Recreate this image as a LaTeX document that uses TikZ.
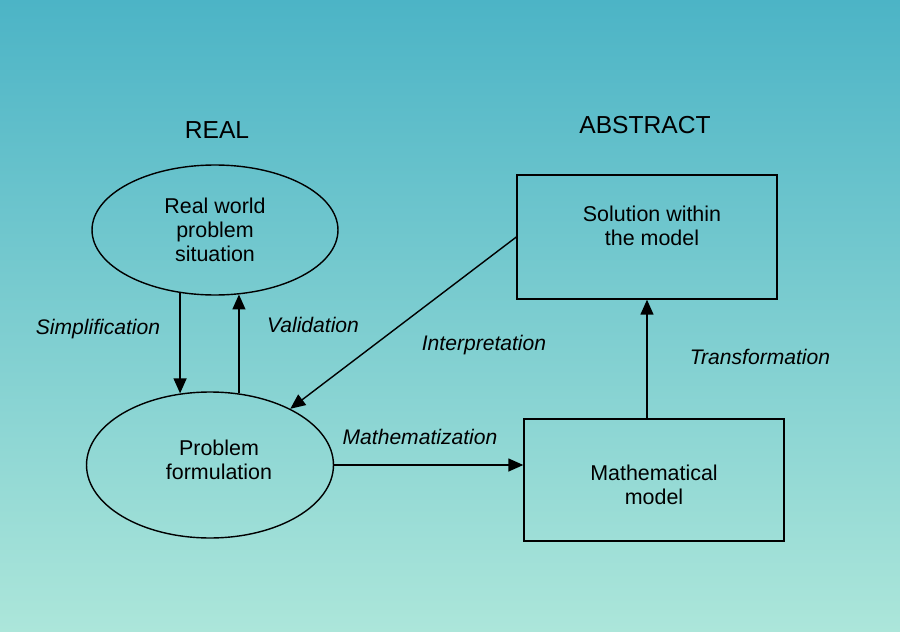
\documentclass[tikz,border=0pt]{standalone}
\usepackage{fontspec}
\setmainfont{Liberation Sans}
\usetikzlibrary{shapes.geometric,arrows.meta}
\definecolor{bgtop}{RGB}{76,180,198}
\definecolor{bgmid}{RGB}{126,212,216}
\definecolor{bgbot}{RGB}{172,230,218}
\begin{document}
\begin{tikzpicture}[
x=0.02cm,y=-0.02cm,
every node/.style={font=\fontsize{12.2}{13.7}\selectfont,align=center},
region/.style={font=\fontsize{14}{16}\selectfont},
oval/.style={draw,ellipse,line width=0.8pt,inner sep=0pt},
box/.style={draw,rectangle,line width=0.8pt,minimum width=5.2cm},
tag/.style={font=\fontsize{12}{14}\selectfont\itshape},
arr/.style={-{Triangle[length=3mm,width=2.6mm]},line width=0.8pt}
]
\fill[top color=bgtop,middle color=bgmid,bottom color=bgbot] (0,0) rectangle (900,632);
\node[region] (real) at (217,130) {REAL};
\node[region] (abstract) at (645,125) {ABSTRACT};
\node[oval,minimum width=4.92cm,minimum height=2.6cm] (world) at (215,230) {Real world\\problem\\situation};
\node[oval,minimum width=4.94cm,minimum height=2.92cm,
  label={[xshift=0.18cm,yshift=0.1cm]center:Problem\\formulation}] (form) at (210,465) {};
\node[box,minimum height=2.48cm,
  label={[xshift=0.1cm,yshift=0.22cm]center:Solution within\\the model}] (sol) at (647,237) {};
\node[box,minimum height=2.44cm,
  label={[yshift=-0.1cm]center:Mathematical\\model}] (model) at (654,480) {};
\node[tag] (simp) at (98,329) {Simplification};
\node[tag] (valid) at (313,325) {Validation};
\node[tag] (interp) at (484,345) {Interpretation};
\node[tag] (mathz) at (420,437) {Mathematization};
\node[tag] (trans) at (760,357) {Transformation};
\draw[arr] (world.241) -- (world.241 |- form.112);
\draw[arr] (form.68) -- (form.68 |- world.290);
\draw[arr] (sol.west) -- (form.35);
\draw[arr] (form.east) -- (form.east -| model.west);
\draw[arr] (sol.south |- model.north) -- (sol.south);
\end{tikzpicture}
\end{document}
